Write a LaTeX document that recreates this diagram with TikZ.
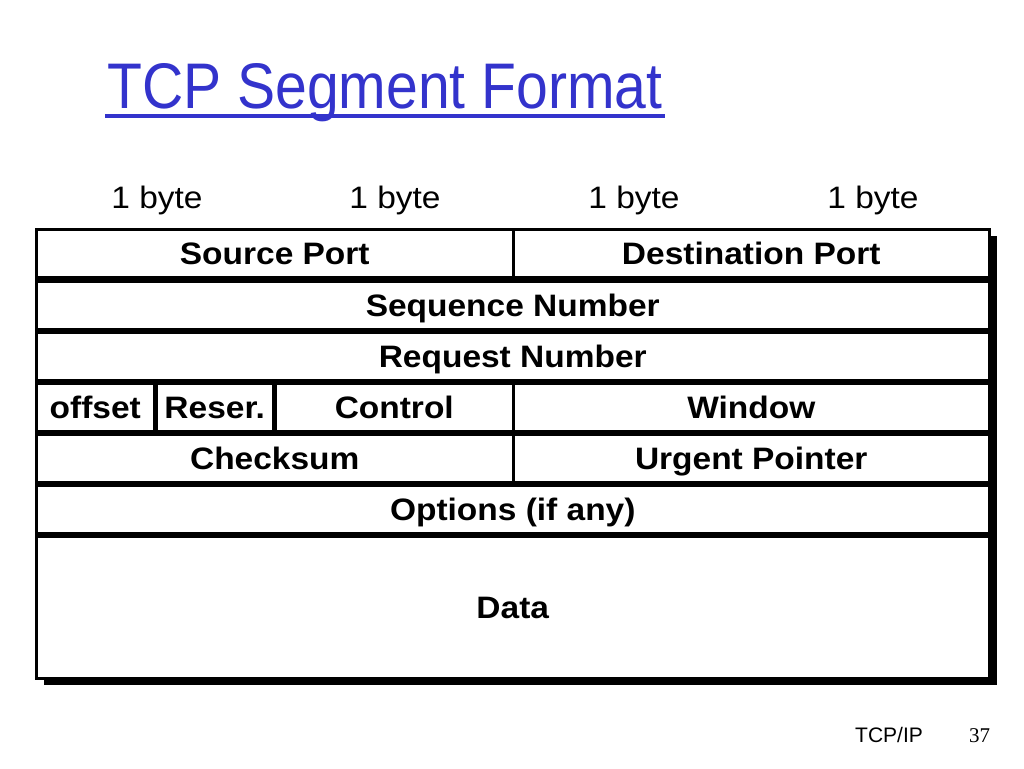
\documentclass[tikz,border=0pt]{standalone}
\usepackage{fontspec}
\setmainfont{Liberation Sans}[FakeStretch=1.08]
\newfontfamily\footfont{Liberation Sans}
\newfontfamily\serifnum{Liberation Serif}
\usepackage{graphicx}
\definecolor{titleblue}{RGB}{51,51,204}
\begin{document}
\begin{tikzpicture}[x=1pt,y=-1pt,
  cell/.style={draw=black, line width=2.5pt, fill=white, anchor=north west,
    inner sep=0pt, minimum height=48pt, text height=22pt, text depth=0pt,
    font=\fontsize{31}{34}\selectfont\bfseries},
  bytelbl/.style={anchor=base, inner sep=0pt, font=\fontsize{31}{34}\selectfont},
  blockshadow/.style={fill=black}]
\useasboundingbox[fill=white] (0,0) rectangle (1024,768);

% title
\node[anchor=base west, inner sep=0pt, text=titleblue] (title) at (107,108)
  {\resizebox{555pt}{45pt}{TCP Segment Format}};
\draw[titleblue, line width=4pt] (105,116) -- (665,116);

% byte labels
\node[bytelbl] (b1) at (157,208) {1 byte};
\node[bytelbl] (b2) at (395,208) {1 byte};
\node[bytelbl] (b3) at (634,208) {1 byte};
\node[bytelbl] (b4) at (873,208) {1 byte};

% shadow of the whole block (also fills the gaps between rows)
\fill[blockshadow] (35,236) rectangle (997,677);
\fill[blockshadow] (44,670) rectangle (997,685);

% row 1
\node[cell, minimum width=477pt] (src) at (35,228) {Source Port};
\node[cell, minimum width=476pt] (dst) at (512,228) {Destination Port};
% row 2
\node[cell, minimum width=953pt] (seq) at (35,280) {Sequence Number};
% row 3
\node[cell, minimum width=953pt] (req) at (35,331) {Request Number};
% row 4
\node[cell, minimum width=118pt] (off) at (35,382) {offset};
\node[cell, minimum width=117pt] (res) at (155,382) {Reser.};
\node[cell, minimum width=238pt] (ctl) at (274,382) {Control};
\node[cell, minimum width=476pt] (win) at (512,382) {Window};
% row 5
\node[cell, minimum width=477pt] (chk) at (35,433) {Checksum};
\node[cell, minimum width=476pt] (urg) at (512,433) {Urgent Pointer};
% row 6
\node[cell, minimum width=953pt] (opt) at (35,484) {Options (if any)};
% row 7
\node[cell, minimum width=953pt, minimum height=142pt] (data) at (35,535) {Data};

% footer
\node[anchor=base west, inner sep=0pt, font=\fontsize{21}{24}\selectfont\footfont] (foot) at (855,742) {TCP/IP};
\node[anchor=base west, inner sep=0pt, font=\fontsize{21}{24}\selectfont\serifnum] (page) at (969,742) {37};
\end{tikzpicture}
\end{document}
